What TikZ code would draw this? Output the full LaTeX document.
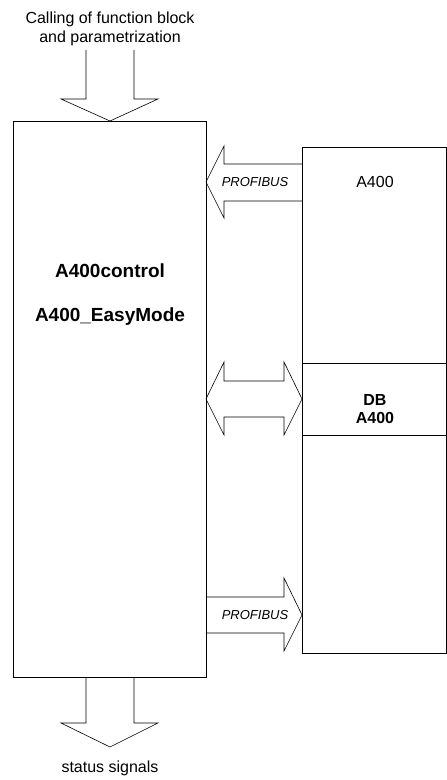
\documentclass[tikz,border=0pt]{standalone}
\usepackage{fontspec}
\setmainfont{Liberation Sans}
\begin{document}
\begin{tikzpicture}[x=1pt,y=-1pt,
  box/.style={draw,line width=0.8pt,inner sep=0pt},
  barrow/.style={draw,line width=0.6pt,line join=miter},
  txt/.style={font=\fontsize{16}{19}\selectfont,align=center,inner sep=0pt},
  bold/.style={font=\fontsize{19}{22}\selectfont\bfseries,inner sep=0pt},
  bus/.style={font=\fontsize{13}{15}\selectfont\itshape,inner sep=0pt}]
\useasboundingbox (0,0) rectangle (447,780);
% boxes
\draw[box] (13,121) rectangle (206,677);
\draw[box] (302,147) rectangle (446,653);
\draw[box] (302,363) -- (446,363);
\draw[box] (302,435) -- (446,435);
% texts
\node[txt] (call) at (110,29) {Calling of function block\\and parametrization};
\node[txt] (status) at (110,768) {status signals};
\node[bold] (a1) at (110,270.5) {A400control};
\node[bold] (a2) at (110,317) {A400\_EasyMode};
\node[txt] (a400) at (375,182) {A400};
\node[txt,font=\fontsize{16}{18}\selectfont\bfseries] (db) at (375,409) {DB\\A400};
\node[bus] (p1) at (255,182) {PROFIBUS};
\node[bus] (p2) at (255,615) {PROFIBUS};
% top arrow (down)
\draw[barrow] (86,50) -- (86,99) -- (61,99) -- (110,121) -- (158,99) -- (134,99) -- (134,50);
% bottom arrow (down)
\draw[barrow] (86,677) -- (86,723) -- (61,723) -- (110,747) -- (158,723) -- (134,723) -- (134,677);
% PROFIBUS arrow to the left
\draw[barrow] (302,164) -- (224,164) -- (224,146) -- (206,182) -- (224,218) -- (224,201) -- (302,201);
% double arrow
\draw[barrow] (224,381) -- (284,381) -- (284,362) -- (302,399) -- (284,435) -- (284,417) -- (224,417) -- (224,435) -- (206,399) -- (224,362) -- cycle;
% PROFIBUS arrow to the right
\draw[barrow] (206,597) -- (284,597) -- (284,578) -- (302,615) -- (284,651) -- (284,633) -- (206,633);
\end{tikzpicture}
\end{document}
